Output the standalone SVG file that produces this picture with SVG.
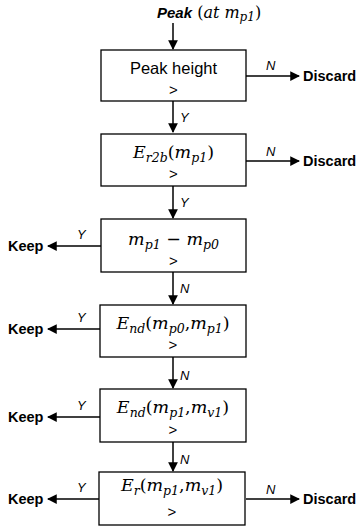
<svg xmlns="http://www.w3.org/2000/svg" width="360" height="529" viewBox="0 0 360 529">
<style>
.box{fill:#fff;stroke:#000;stroke-width:1.3}
.ln{stroke:#000;stroke-width:1.5;fill:none}
.lbl{font-family:"Liberation Sans",Arial,sans-serif;font-size:13px;font-style:italic;fill:#000}
.out{font-family:"Liberation Sans",Arial,sans-serif;font-size:14.5px;font-weight:bold;fill:#000}
.txt{font-family:"Liberation Sans",Arial,sans-serif;font-size:16.5px;fill:#000;text-anchor:middle}
.gt{font-family:"Liberation Sans",Arial,sans-serif;font-size:15px;fill:#000;text-anchor:middle}
.m{font-family:"DejaVu Serif",serif;font-size:17.5px;font-style:italic;fill:#000;text-anchor:middle}
.u{font-style:normal}
.s{font-size:12.5px}
</style>
<defs>
<marker id="ah" viewBox="0 0 10 10" refX="9" refY="5" markerWidth="6.5" markerHeight="6.5" orient="auto" markerUnits="strokeWidth">
<path d="M0,0 L10,5 L0,10 Z" fill="#000"/>
</marker>
</defs>

<g id="start">
<text x="157" y="18" font-family="Liberation Sans,Arial,sans-serif" font-size="15" font-weight="bold" font-style="italic">Peak<tspan font-weight="normal" font-style="normal" font-family="DejaVu Serif,serif" font-size="16"> (</tspan><tspan font-weight="normal" font-family="DejaVu Serif,serif" font-size="16">at m</tspan><tspan font-weight="normal" font-family="DejaVu Serif,serif" font-size="12" dy="3">p1</tspan><tspan font-weight="normal" font-style="normal" font-family="DejaVu Serif,serif" font-size="16" dy="-3">)</tspan></text>
</g>

<g id="connectors">
<line class="ln" x1="173" y1="23" x2="173" y2="49" marker-end="url(#ah)"/>
<line class="ln" x1="173" y1="101" x2="173" y2="132" marker-end="url(#ah)"/>
<line class="ln" x1="173" y1="186" x2="173" y2="218" marker-end="url(#ah)"/>
<line class="ln" x1="173" y1="272" x2="173" y2="304" marker-end="url(#ah)"/>
<line class="ln" x1="173" y1="357" x2="173" y2="388" marker-end="url(#ah)"/>
<line class="ln" x1="173" y1="442" x2="173" y2="471" marker-end="url(#ah)"/>
<line class="ln" x1="246" y1="76" x2="299" y2="76" marker-end="url(#ah)"/>
<line class="ln" x1="246" y1="161" x2="299" y2="161" marker-end="url(#ah)"/>
<line class="ln" x1="246" y1="499" x2="299" y2="499" marker-end="url(#ah)"/>
<line class="ln" x1="101" y1="246" x2="48" y2="246" marker-end="url(#ah)"/>
<line class="ln" x1="100" y1="329" x2="48" y2="329" marker-end="url(#ah)"/>
<line class="ln" x1="100" y1="417" x2="48" y2="417" marker-end="url(#ah)"/>
<line class="ln" x1="99" y1="499" x2="48" y2="499" marker-end="url(#ah)"/>
<text class="lbl" x="180" y="122">Y</text>
<text class="lbl" x="180" y="207">Y</text>
<text class="lbl" x="180" y="293">N</text>
<text class="lbl" x="180" y="380">N</text>
<text class="lbl" x="180" y="464">N</text>
<text class="lbl" x="266" y="70">N</text>
<text class="lbl" x="266" y="156">N</text>
<text class="lbl" x="266" y="494">N</text>
<text class="lbl" x="77" y="239">Y</text>
<text class="lbl" x="77" y="322">Y</text>
<text class="lbl" x="77" y="410">Y</text>
<text class="lbl" x="77" y="492">Y</text>
<text class="out" x="303" y="81">Discard</text>
<text class="out" x="303" y="166">Discard</text>
<text class="out" x="303" y="504">Discard</text>
<text class="out" x="8" y="251">Keep</text>
<text class="out" x="8" y="334">Keep</text>
<text class="out" x="8" y="422">Keep</text>
<text class="out" x="8" y="504">Keep</text>
</g>

<g id="n1">
<rect class="box" x="101" y="50" width="145" height="51"/>
<text class="txt" x="173.5" y="74">Peak height</text>
<text class="gt" x="173.5" y="95">&gt;</text>
</g>

<g id="n2">
<rect class="box" x="101" y="134" width="145" height="52"/>
<text class="m" x="173.5" y="158">E<tspan class="s" dy="3.5">r2b</tspan><tspan class="u" dy="-3.5">(</tspan>m<tspan class="s" dy="3.5">p1</tspan><tspan class="u" dy="-3.5">)</tspan></text>
<text class="gt" x="173.5" y="179">&gt;</text>
</g>

<g id="n3">
<rect class="box" x="101" y="219" width="145" height="53"/>
<text class="m" x="173.5" y="245">m<tspan class="s" dy="3.5">p1</tspan><tspan class="u" dy="-3.5"> − </tspan>m<tspan class="s" dy="3.5">p0</tspan></text>
<text class="gt" x="173.5" y="266">&gt;</text>
</g>

<g id="n4">
<rect class="box" x="100" y="305" width="146" height="52"/>
<text class="m" x="173" y="329">E<tspan class="s" dy="3.5">nd</tspan><tspan class="u" dy="-3.5">(</tspan>m<tspan class="s" dy="3.5">p0</tspan><tspan class="u" dy="-3.5">,</tspan>m<tspan class="s" dy="3.5">p1</tspan><tspan class="u" dy="-3.5">)</tspan></text>
<text class="gt" x="173" y="350">&gt;</text>
</g>

<g id="n5">
<rect class="box" x="100" y="389" width="146" height="53"/>
<text class="m" x="173" y="413">E<tspan class="s" dy="3.5">nd</tspan><tspan class="u" dy="-3.5">(</tspan>m<tspan class="s" dy="3.5">p1</tspan><tspan class="u" dy="-3.5">,</tspan>m<tspan class="s" dy="3.5">v1</tspan><tspan class="u" dy="-3.5">)</tspan></text>
<text class="gt" x="173" y="435">&gt;</text>
</g>

<g id="n6">
<rect class="box" x="99" y="472" width="146" height="53"/>
<text class="m" x="172" y="491">E<tspan class="s" dy="3.5">r</tspan><tspan class="u" dy="-3.5">(</tspan>m<tspan class="s" dy="3.5">p1</tspan><tspan class="u" dy="-3.5">,</tspan>m<tspan class="s" dy="3.5">v1</tspan><tspan class="u" dy="-3.5">)</tspan></text>
<text class="gt" x="172" y="517">&gt;</text>
</g>
</svg>
